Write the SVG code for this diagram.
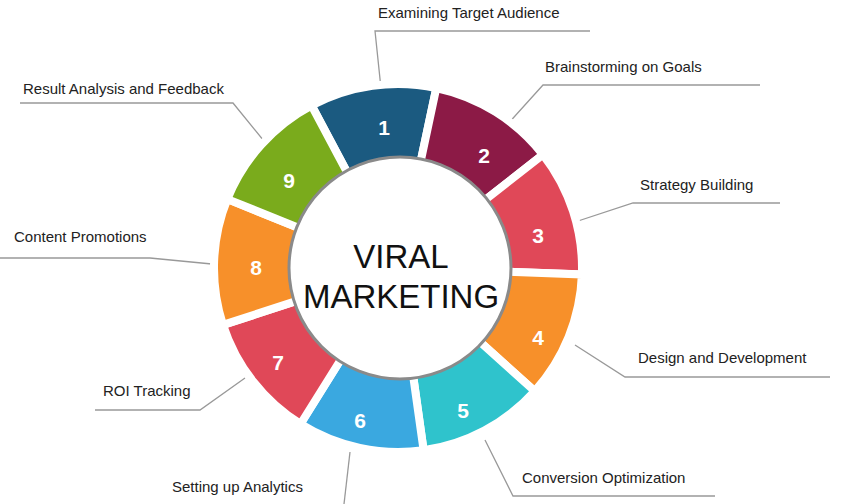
<svg xmlns="http://www.w3.org/2000/svg" width="843" height="504" viewBox="0 0 843 504">
<style>
.s{stroke:#fff;stroke-width:8;stroke-linejoin:miter}
.n{font-family:"Liberation Sans",Arial,sans-serif;font-weight:bold;font-size:21px;fill:#fff;text-anchor:middle}
.l{font-family:"Liberation Sans",Arial,sans-serif;font-size:15px;fill:#222}
.c{fill:none;stroke:#999;stroke-width:1.3}
.m{font-family:"Liberation Sans",Arial,sans-serif;font-size:33px;fill:#111;text-anchor:middle}
</style>
<rect width="843" height="504" fill="#fff"/>
<g id="connectors">
<polyline class="c" points="382,98 375,31 590,31"/>
<polyline class="c" points="505,127 543,85 760,85"/>
<polyline class="c" points="575,222 633,203 780,203"/>
<polyline class="c" points="575,345 625,377 830,377"/>
<polyline class="c" points="485,440 513,496 715,496"/>
<polyline class="c" points="350,452 344,504"/>
<polyline class="c" points="245,378 200,410 95,410"/>
<polyline class="c" points="0,258 150,258 222,265"/>
<polyline class="c" points="20,103 233,103 268,146"/>
</g>
<g id="n1"><path class="s" fill="#1b5a80" d="M398,268 L311.6,105.5 A184,184 0 0 1 436.3,88 Z"/><text class="n" x="384" y="135">1</text></g>
<g id="n2"><path class="s" fill="#8c1a46" d="M398,268 L436.3,88 A184,184 0 0 1 543,154.7 Z"/><text class="n" x="484" y="163">2</text></g>
<g id="n3"><path class="s" fill="#e04858" d="M398,268 L543,154.7 A184,184 0 0 1 581.9,274.4 Z"/><text class="n" x="538" y="243">3</text></g>
<g id="n4"><path class="s" fill="#f7902a" d="M398,268 L581.9,274.4 A184,184 0 0 1 534.7,391.1 Z"/><text class="n" x="538" y="345">4</text></g>
<g id="n5"><path class="s" fill="#2fc3cc" d="M398,268 L534.7,391.1 A184,184 0 0 1 423.6,450.2 Z"/><text class="n" x="463" y="418">5</text></g>
<g id="n6"><path class="s" fill="#3aa8e0" d="M398,268 L423.6,450.2 A184,184 0 0 1 300.5,424 Z"/><text class="n" x="360" y="428">6</text></g>
<g id="n7"><path class="s" fill="#e04858" d="M398,268 L300.5,424 A184,184 0 0 1 223,324.9 Z"/><text class="n" x="278" y="370">7</text></g>
<g id="n8"><path class="s" fill="#f7902a" d="M398,268 L223,324.9 A184,184 0 0 1 227.4,199.1 Z"/><text class="n" x="256" y="275">8</text></g>
<g id="n9"><path class="s" fill="#7aab1c" d="M398,268 L227.4,199.1 A184,184 0 0 1 311.6,105.5 Z"/><text class="n" x="289" y="188">9</text></g>
<g id="center"><circle cx="400" cy="268" r="111" fill="#fff" stroke="#8a8a8a" stroke-width="3"/>
<text class="m" x="401" y="268">VIRAL</text><text class="m" x="401" y="308">MARKETING</text></g>
<g id="labels">
<text class="l" x="378" y="18">Examining Target Audience</text>
<text class="l" x="545" y="72">Brainstorming on Goals</text>
<text class="l" x="640" y="190">Strategy Building</text>
<text class="l" x="638" y="363">Design and Development</text>
<text class="l" x="522" y="483">Conversion Optimization</text>
<text class="l" x="172" y="492">Setting up Analytics</text>
<text class="l" x="103" y="396">ROI Tracking</text>
<text class="l" x="14" y="242">Content Promotions</text>
<text class="l" x="23" y="94">Result Analysis and Feedback</text>
</g>
</svg>
